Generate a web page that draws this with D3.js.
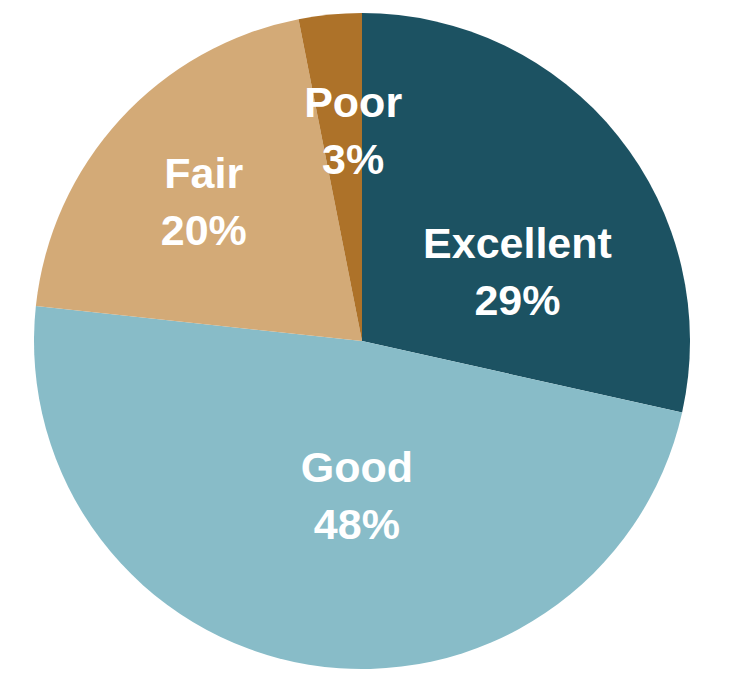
<!DOCTYPE html>
<meta charset="utf-8">
<style>
body { margin: 0; background: #fff; }
text {
  font: bold 43px "Liberation Sans", Arial, sans-serif;
  fill: #fff;
}
</style>
<svg width="738" height="688"></svg>
<script src="https://d3js.org/d3.v7.min.js"></script>
<script>

// ratings, clockwise from 12 o'clock
var categories = ["Excellent", "Good", "Fair", "Poor"];
var values = [28.5, 48.2, 20.2, 3.1];
var percentLabels = ["29%", "48%", "20%", "3%"];
var colors = ["#1c5262", "#88bcc8", "#d3aa77", "#ad7229"];

var svg = d3.select("svg"),
    radius = 328,
    g = svg.append("g").attr("transform", "translate(362,341)");

var pie = d3.pie().sort(null).value(function(d) { return d; });
var arc = d3.arc().innerRadius(0).outerRadius(radius);
var arcs = pie(values);

g.selectAll("path")
  .data(arcs)
  .enter().append("path")
    .attr("d", arc)
    .attr("fill", function(d, i) { return colors[i]; });

// label placement: [angle in degrees from top, fraction of radius]
// (the labels were hand-placed in the original, not on the slice middles)
var labelPlace = [[65.7, 0.52], [181.9, 0.471], [311.6, 0.645], [357.6, 0.645]];

var labels = g.selectAll("g.label")
  .data(arcs)
  .enter().append("g")
    .attr("class", "label")
    .attr("transform", function(d, i) {
      var a = labelPlace[i][0] * Math.PI / 180,
          r = labelPlace[i][1] * radius;
      return "translate(" + (r * Math.sin(a)) + "," + (-r * Math.cos(a)) + ")";
    });

labels.append("text")
    .attr("text-anchor", "middle")
    .attr("y", -13)
    .text(function(d, i) { return categories[i]; });

labels.append("text")
    .attr("text-anchor", "middle")
    .attr("y", 44)
    .text(function(d, i) { return percentLabels[i]; });

</script>
